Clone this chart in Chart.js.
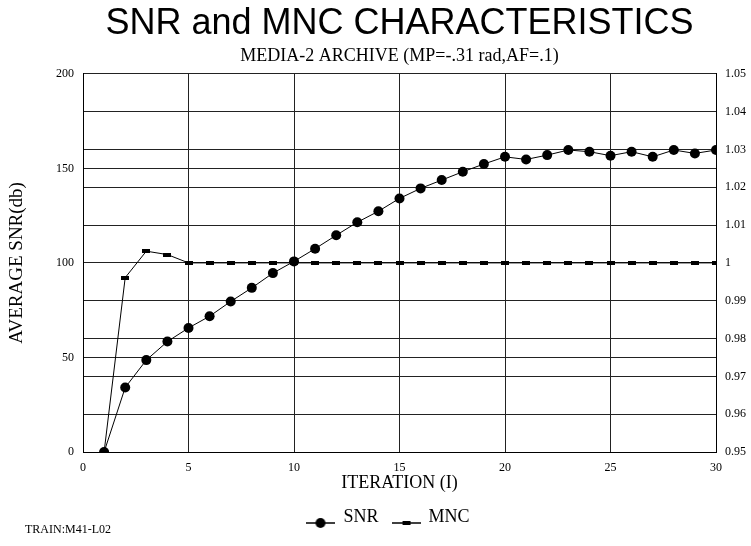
<!DOCTYPE html>
<html>
<head>
<meta charset="utf-8">
<script src="https://cdn.jsdelivr.net/npm/chart.js@4.4.1/dist/chart.umd.min.js"></script>
<style>
  html, body { margin: 0; padding: 0; background: #fff; }
  #wrap { width: 751px; height: 546px; }
</style>
</head>
<body>
<div id="wrap"><canvas id="chart"></canvas></div>
<script>
const iterations = [1, 2, 3, 4, 5, 6, 7, 8, 9, 10, 11, 12, 13, 14, 15,
                    16, 17, 18, 19, 20, 21, 22, 23, 24, 25, 26, 27, 28, 29, 30];
const snrValues = [0, 34.1, 48.6, 58.4, 65.6, 71.8, 79.6, 86.8, 94.6, 100.8,
                   107.5, 114.6, 121.5, 127.3, 134.1, 139.4, 143.8, 148.2, 152.3, 156.1,
                   154.7, 157.0, 159.7, 158.8, 156.7, 158.8, 156.1, 159.7, 157.9, 159.7];
const mncValues = [0.95, 0.9961, 1.0031, 1.0022, 1, 1, 1, 1, 1, 1,
                   1, 1, 1, 1, 1, 1, 1, 1, 1, 1,
                   1, 1, 1, 1, 1, 1, 1, 1, 1, 1];
const xTicks = [0, 5, 10, 15, 20, 25, 30];
const snrTicks = [0, 50, 100, 150, 200];
const mncTicks = [0.95, 0.96, 0.97, 0.98, 0.99, 1, 1.01, 1.02, 1.03, 1.04, 1.05];

const serif = '"Liberation Serif", "Times New Roman", serif';
const sans = '"Liberation Sans", Arial, sans-serif';
const gridColor = '#222';

// small bar marker used for MNC
const mncMarker = document.createElement('canvas');
mncMarker.width = 8;
mncMarker.height = 4;
mncMarker.getContext('2d').fillRect(0, 0, 8, 4);

// legend swatches: line with the marker sitting on it
const legendSwatch = (kind) => {
  const c = document.createElement('canvas');
  c.width = 29;
  c.height = 28;
  const g = c.getContext('2d');
  g.strokeStyle = '#000';
  g.lineWidth = 1.5;
  g.beginPath();
  g.moveTo(0, 20);
  g.lineTo(29, 20);
  g.stroke();
  g.fillStyle = '#000';
  if (kind === 'circle') {
    g.beginPath();
    g.arc(14, 20, 5, 0, Math.PI * 2);
    g.fill();
  } else {
    g.fillRect(11, 18, 8, 4);
  }
  return c;
};
const swatches = [legendSwatch('circle'), legendSwatch('bar')];

const footnote = {
  id: 'footnote',
  afterLayout(chart) {
    // legend sits a little left of the plot centre in the original
    chart.legend.left -= 11;
    chart.legend.right -= 11;
  },
  afterDraw(chart) {
    const ctx = chart.ctx;
    ctx.save();
    ctx.font = '12px ' + serif;
    ctx.fillStyle = '#000';
    ctx.textBaseline = 'middle';
    ctx.fillText('TRAIN:M41-L02', 25, 530);
    ctx.restore();
  }
};

new Chart(document.getElementById('chart'), {
  type: 'line',
  data: {
    datasets: [
      {
        label: 'SNR',
        data: iterations.map((it, i) => ({ x: it, y: snrValues[i] })),
        yAxisID: 'y',
        borderColor: '#000',
        backgroundColor: '#000',
        borderWidth: 1,
        pointStyle: 'circle',
        pointRadius: 5,
        pointBorderWidth: 0,
        tension: 0
      },
      {
        label: 'MNC',
        data: iterations.map((it, i) => ({ x: it, y: mncValues[i] })),
        yAxisID: 'y2',
        borderColor: '#000',
        backgroundColor: '#000',
        borderWidth: 1,
        pointStyle: mncMarker,
        pointRadius: 4,
        tension: 0
      }
    ]
  },
  options: {
    responsive: true,
    maintainAspectRatio: false,
    animation: false,
    layout: { padding: { left: 0, right: 0, top: 0, bottom: 10 } },
    plugins: {
      tooltip: { enabled: false },
      title: {
        display: true,
        text: 'SNR and MNC CHARACTERISTICS',
        fullSize: false,
        color: '#000',
        font: { family: sans, size: 36, weight: 'normal', lineHeight: 1.2 },
        padding: { top: 2, bottom: 0 }
      },
      subtitle: {
        display: true,
        text: 'MEDIA-2 ARCHIVE (MP=-.31 rad,AF=.1)',
        fullSize: false,
        color: '#000',
        font: { family: serif, size: 18, lineHeight: 1.2 },
        padding: { top: 0, bottom: 7 }
      },
      legend: {
        position: 'bottom',
        fullSize: false,
        labels: {
          color: '#000',
          font: { family: serif, size: 18 },
          usePointStyle: true,
          pointStyleWidth: 27,
          padding: 14,
          generateLabels: (chart) => chart.data.datasets.map((ds, i) => ({
            text: ds.label,
            pointStyle: swatches[i],
            fillStyle: '#000',
            strokeStyle: '#000',
            lineWidth: 0,
            fontColor: '#000',
            datasetIndex: i
          }))
        }
      }
    },
    scales: {
      x: {
        type: 'linear',
        min: 0,
        max: 30,
        afterBuildTicks: (s) => { s.ticks = xTicks.map(v => ({ value: v })); },
        afterFit: (s) => { s.height = 42; },
        ticks: { color: '#000', font: { family: serif, size: 12 }, padding: 9, maxRotation: 0 },
        grid: { color: gridColor, lineWidth: 1, drawTicks: false },
        border: { color: '#000', width: 1 },
        title: {
          display: true,
          text: 'ITERATION (I)',
          color: '#000',
          font: { family: serif, size: 18, lineHeight: 1.2 },
          padding: { top: 0, bottom: 0 }
        }
      },
      y: {
        position: 'left',
        min: 0,
        max: 200,
        afterBuildTicks: (s) => { s.ticks = snrTicks.map(v => ({ value: v })); },
        afterFit: (s) => { s.width = 83; },
        ticks: { color: '#000', font: { family: serif, size: 12 }, padding: 9 },
        grid: { color: gridColor, lineWidth: 1, drawTicks: false },
        border: { color: '#000', width: 1 },
        title: {
          display: true,
          text: 'AVERAGE SNR(db)',
          color: '#000',
          font: { family: serif, size: 19, lineHeight: 1.2 },
          padding: { top: 6, bottom: 0 }
        }
      },
      y2: {
        position: 'right',
        min: 0.95,
        max: 1.05,
        afterBuildTicks: (s) => { s.ticks = mncTicks.map(v => ({ value: v })); },
        afterFit: (s) => { s.width = 35; },
        ticks: {
          color: '#000',
          font: { family: serif, size: 12 },
          padding: 9,
          callback: (v) => String(Number(v.toFixed(2)))
        },
        grid: { color: gridColor, lineWidth: 1, drawTicks: false, drawOnChartArea: true },
        border: { color: '#000', width: 1 }
      }
    }
  },
  plugins: [footnote]
});
</script>
</body>
</html>
